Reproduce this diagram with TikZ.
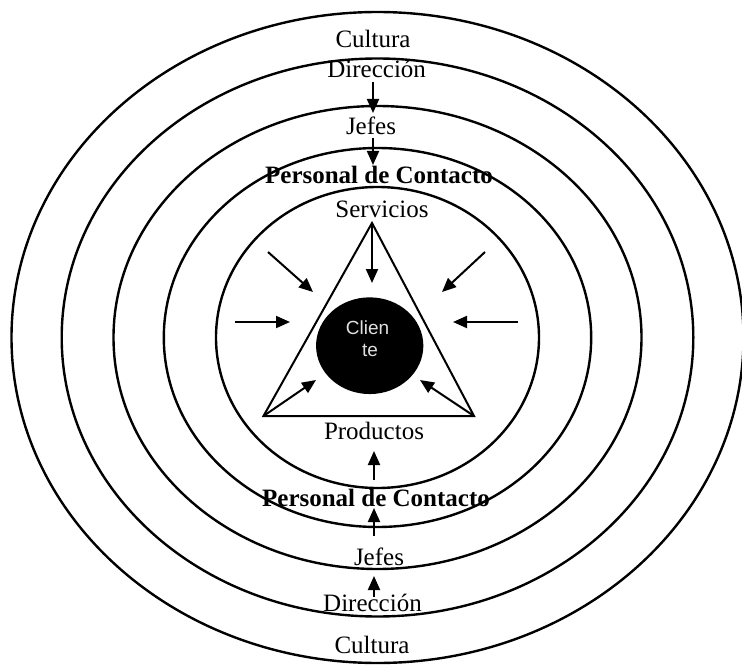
\documentclass[tikz,border=0pt]{standalone}
\usepackage{fontspec}
\setmainfont{Liberation Serif}
\newfontfamily\clifont{Liberation Sans}
\usetikzlibrary{arrows.meta,shapes.geometric}
\begin{document}
\begin{tikzpicture}[x=1pt,y=-1pt,
  ring/.style={line width=2.4pt},
  lbl/.style={anchor=base,inner sep=0pt,font=\fontsize{25}{30}\selectfont},
  blbl/.style={anchor=base,inner sep=0pt,font=\fontsize{25}{30}\selectfont\bfseries},
  clbl/.style={anchor=base,inner sep=0pt,text=black!12,font=\clifont\fontsize{19}{22}\selectfont},
  arr/.style={line width=2pt,-{Triangle[length=14pt,width=12pt]}},
  tri/.style={line width=2pt,line join=miter}]
\useasboundingbox[fill=white] (0,0) rectangle (742,666);
\coordinate (O) at (377.5,337.5);
% rings
\draw[ring] (O) ellipse [x radius=366pt,y radius=325.5pt];
\draw[ring] (O) ellipse [x radius=315.8pt,y radius=279pt];
\draw[ring] (O) ellipse [x radius=264pt,y radius=231.5pt];
\draw[ring] (O) ellipse [x radius=213.7pt,y radius=189.5pt];
\draw[ring] (O) ellipse [x radius=161.5pt,y radius=150.5pt];
% labels top
\node[lbl]  (culT) at (373,48)  {Cultura};
\node[lbl]  (dirT) at (376.7,78) {Dirección};
\node[lbl]  (jefT) at (371,135) {Jefes};
\node[blbl] (pdcT) at (379,183) {Personal de Contacto};
\node[lbl]  (serv) at (382,217) {Servicios};
% labels bottom
\node[lbl]  (prod) at (374,439) {Productos};
\node[blbl] (pdcB) at (376,506) {Personal de Contacto};
\node[lbl]  (jefB) at (379,565) {Jefes};
\node[lbl]  (dirB) at (372.5,611) {Dirección};
\node[lbl]  (culB) at (372,653) {Cultura};
% triangle
\coordinate (tA) at (372,223);
\coordinate (tL) at (263.5,416);
\coordinate (tR) at (474,416);
\draw[tri] (tA) -- (tL) -- (tR) -- cycle;
% client
\node[ellipse,fill=black,inner sep=0pt,minimum width=107.3pt,minimum height=96.7pt] (cli) at (369.7,345.7) {};
\node[clbl] (cli1) at (367.5,334.3) {Clien};
\node[clbl] (cli2) at (370,356.7) {te};
% vertical arrows top
\coordinate (a1s) at (373,82);  \coordinate (a1e) at (373,113);
\coordinate (a2s) at (373,138); \coordinate (a2e) at (373,165);
\draw[arr] (a1s) -- (a1e);
\draw[arr] (a2s) -- (a2e);
% vertical arrows bottom
\coordinate (b1s) at (374,480); \coordinate (b1e) at (374,451);
\coordinate (b2s) at (374,536); \coordinate (b2e) at (374,508);
\coordinate (b3s) at (374,597); \coordinate (b3e) at (374,576);
\draw[arr] (b1s) -- (b1e);
\draw[arr] (b2s) -- (b2e);
\draw[arr] (b3s) -- (b3e);
% inner arrows
\coordinate (ulS) at (268,252); \coordinate (ulE) at (313,292);
\coordinate (urS) at (485,252); \coordinate (urE) at (442,292);
\coordinate (lS) at (235,322);  \coordinate (lE) at (290,322);
\coordinate (rS) at (518,322);  \coordinate (rE) at (453,322);
\coordinate (llE) at (316,380);
\coordinate (lrE) at (420,380);
\coordinate (apE) at (372,283);
\draw[arr] (ulS) -- (ulE);
\draw[arr] (urS) -- (urE);
\draw[arr] (lS) -- (lE);
\draw[arr] (rS) -- (rE);
\draw[arr] (tL) -- (llE);
\draw[arr] (tR) -- (lrE);
\draw[arr] (tA) -- (apE);
\end{tikzpicture}
\end{document}
